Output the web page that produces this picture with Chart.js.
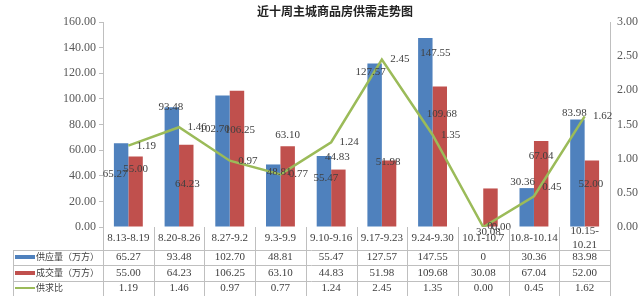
<!DOCTYPE html>
<html>
<head>
<meta charset="utf-8">
<script src="https://cdn.jsdelivr.net/npm/chart.js@4/dist/chart.umd.min.js"></script>
<style>
  body { margin: 0; background: #fff; }
  #wrap { width: 640px; height: 296px; position: relative; }
</style>
</head>
<body>
<div id="wrap"><canvas id="chart"></canvas></div>
<script>
// 数据
const categories = ['8.13-8.19', '8.20-8.26', '8.27-9.2', '9.3-9.9', '9.10-9.16',
  '9.17-9.23', '9.24-9.30', '10.1-10.7', '10.8-10.14', '10.15-10.21'];
const supply = [65.27, 93.48, 102.70, 48.81, 55.47, 127.57, 147.55, 0, 30.36, 83.98];
const deal = [55.00, 64.23, 106.25, 63.10, 44.83, 51.98, 109.68, 30.08, 67.04, 52.00];
const ratio = [1.19, 1.46, 0.97, 0.77, 1.24, 2.45, 1.35, 0.00, 0.45, 1.62];
const seriesNames = ['供应量（万方）', '成交量（万方）', '供求比'];
const leftTicks = [0, 20, 40, 60, 80, 100, 120, 140, 160];
const rightTicks = [0, 0.5, 1, 1.5, 2, 2.5, 3];

// 数据标签的偏移（相对柱顶 / 折线点）
const supplyShift = [[-6, 31], [-1, 0], [-8, 34], [6, 8], [2, 22], [-4, 9], [10, 15], [14, -1], [-4, -6], [-3, -6]];
const dealShift = [[0, 13], [1, 39], [3, 39], [0, -11], [-1, -12], [-1, 2], [2, 28], [-2, 44], [0, 15], [-1, 24]];

const BLUE = '#4F81BD', RED = '#C0504D', GREEN = '#9BBB59', GRID = '#bfbfbf', TXT = '#404040';
const SERIF = '"Liberation Serif", "DejaVu Serif", serif';
const CJK = '"Noto Sans CJK SC", sans-serif';

function fmt(v) { return v === 0 ? '0' : v.toFixed(2); }

const labelPlugin = {
  id: 'labels',
  afterDatasetsDraw(chart) {
    const ctx = chart.ctx;
    ctx.save();
    ctx.font = '11px ' + SERIF;
    ctx.fillStyle = TXT;
    ctx.textAlign = 'center';
    ctx.textBaseline = 'middle';
    chart.getDatasetMeta(0).data.forEach((el, i) => {
      ctx.fillText(fmt(supply[i]), el.x + supplyShift[i][0], el.y + supplyShift[i][1]);
    });
    chart.getDatasetMeta(1).data.forEach((el, i) => {
      ctx.fillText(fmt(deal[i]), el.x + dealShift[i][0], el.y + dealShift[i][1]);
    });
    chart.getDatasetMeta(2).data.forEach((el, i) => {
      ctx.fillText(ratio[i].toFixed(2), el.x + 18, el.y + (i === 8 ? -9 : 0));
    });
    ctx.restore();
  }
};

const tablePlugin = {
  id: 'table',
  afterDraw(chart) {
    const ctx = chart.ctx;
    const x = chart.scales.x;
    const area = chart.chartArea;
    const cw = (area.right - area.left) / categories.length;
    const top = area.bottom;
    const rows = [top + 23, top + 38, top + 54];
    const left = 13;
    ctx.save();
    ctx.strokeStyle = GRID;
    ctx.lineWidth = 1;
    ctx.beginPath();
    for (let i = 0; i <= categories.length; i++) {
      const px = Math.round(area.left + i * cw) + 0.5;
      ctx.moveTo(px, top);
      ctx.lineTo(px, chart.height);
    }
    ctx.moveTo(left + 0.5, rows[0]);
    ctx.lineTo(left + 0.5, chart.height);
    rows.forEach(r => {
      ctx.moveTo(left, r + 0.5);
      ctx.lineTo(area.right, r + 0.5);
    });
    ctx.stroke();

    // 标题
    ctx.fillStyle = '#222';
    ctx.font = 'bold 12px ' + CJK;
    ctx.textAlign = 'center';
    ctx.textBaseline = 'middle';
    ctx.fillText('近十周主城商品房供需走势图', chart.width / 2 + 15, 11);

    // 类别行
    ctx.fillStyle = TXT;
    ctx.font = '11px ' + SERIF;
    categories.forEach((c, i) => {
      const cx = x.getPixelForValue(i);
      if (ctx.measureText(c).width > cw - 2) {
        const k = c.indexOf('-') + 1;
        ctx.fillText(c.slice(0, k), cx, top + 4);
        ctx.fillText(c.slice(k), cx, top + 18);
      } else {
        ctx.fillText(c, cx, top + 11);
      }
    });

    // 数值行
    const centers = [top + 30, top + 46, top + 61];
    const vals = [supply.map(fmt), deal.map(fmt), ratio.map(v => v.toFixed(2))];
    vals.forEach((row, r) => {
      row.forEach((s, i) => ctx.fillText(s, x.getPixelForValue(i), centers[r]));
    });

    // 图例
    ctx.textAlign = 'left';
    ctx.font = '9px ' + CJK;
    ctx.fillStyle = BLUE;
    ctx.fillRect(15, centers[0] - 2, 20, 4);
    ctx.fillStyle = RED;
    ctx.fillRect(15, centers[1] - 2, 20, 4);
    ctx.strokeStyle = GREEN;
    ctx.lineWidth = 2;
    ctx.beginPath();
    ctx.moveTo(15, centers[2]);
    ctx.lineTo(35, centers[2]);
    ctx.stroke();
    ctx.fillStyle = TXT;
    seriesNames.forEach((n, r) => ctx.fillText(n, 36, centers[r]));
    ctx.restore();
  }
};

new Chart(document.getElementById('chart'), {
  data: {
    labels: categories,
    datasets: [
      { type: 'bar', label: seriesNames[0], data: supply, backgroundColor: BLUE, yAxisID: 'y', order: 2 },
      { type: 'bar', label: seriesNames[1], data: deal, backgroundColor: RED, yAxisID: 'y', order: 2 },
      { type: 'line', label: seriesNames[2], data: ratio, borderColor: GREEN, borderWidth: 2.5,
        pointRadius: 0, tension: 0, yAxisID: 'y1', order: 1 }
    ]
  },
  options: {
    responsive: true,
    maintainAspectRatio: false,
    animation: false,
    layout: { padding: { top: 22, bottom: 69, left: 0, right: 0 } },
    datasets: { bar: { categoryPercentage: 0.57, barPercentage: 1.0 } },
    plugins: { legend: { display: false }, tooltip: { enabled: false }, title: { display: false } },
    scales: {
      x: { display: false },
      y: {
        position: 'left', min: leftTicks[0], max: leftTicks[leftTicks.length - 1],
        afterBuildTicks: s => { s.ticks = leftTicks.map(v => ({ value: v })); },
        afterFit: s => { s.width = 103; },
        ticks: { callback: v => Number(v).toFixed(2), color: '#595959', font: { family: SERIF, size: 12 }, padding: 3 },
        grid: { drawOnChartArea: false, drawTicks: true, tickLength: 4, color: GRID },
        border: { color: GRID }
      },
      y1: {
        position: 'right', min: rightTicks[0], max: rightTicks[rightTicks.length - 1],
        afterBuildTicks: s => { s.ticks = rightTicks.map(v => ({ value: v })); },
        afterFit: s => { s.width = 30; },
        ticks: { callback: v => Number(v).toFixed(2), color: '#595959', font: { family: SERIF, size: 12 }, padding: 7 },
        grid: { drawOnChartArea: false, drawTicks: false, color: GRID },
        border: { color: GRID }
      }
    }
  },
  plugins: [labelPlugin, tablePlugin]
});
</script>
</body>
</html>
